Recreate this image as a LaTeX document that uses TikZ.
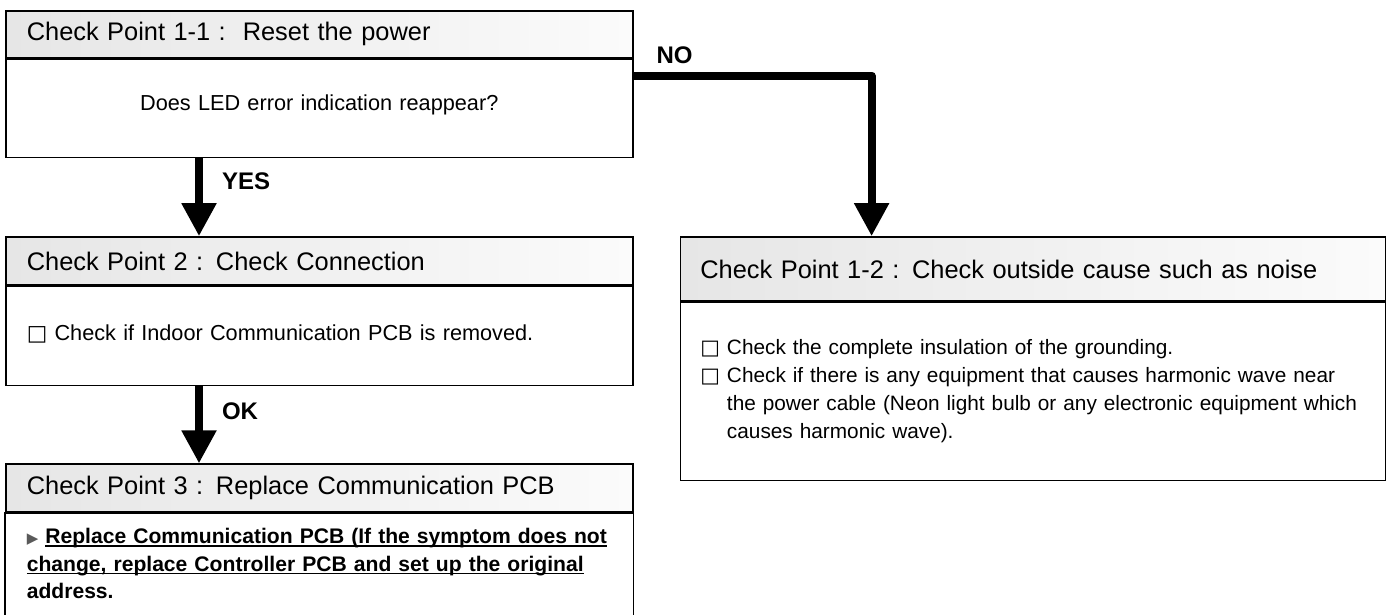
\documentclass[tikz,border=0pt]{standalone}
\usepackage{fontspec}
\setmainfont{Liberation Sans}
\newfontfamily\symfont{DejaVu Sans}
\usetikzlibrary{arrows.meta,positioning}
\definecolor{headgray}{HTML}{E6E6E6}
\definecolor{headwhite}{HTML}{FBFBFB}
\definecolor{pointer}{HTML}{5A5A5A}
\newcommand{\chkbox}{{\symfont □}}
\newcommand{\undl}[1]{\leavevmode\setbox0\hbox{#1}\rlap{\rule[-3pt]{\wd0}{1.4pt}}\box0}
\tikzset{
 head/.style={draw,line width=1.6pt,left color=headgray,right color=headwhite,minimum width=627pt,minimum height=48pt,inner xsep=21pt,text width=585pt,align=left,font=\fontsize{25.4}{30}\selectfont},
 body/.style={draw,line width=1.6pt,fill=white,minimum width=627pt,inner xsep=21pt,text width=585pt,align=left,font=\fontsize{21.7}{27.5}\selectfont},
 arrow/.style={-{Triangle[length=33pt,width=33pt]},line width=8pt,line join=round},
 answer/.style={inner sep=0pt,font=\bfseries\fontsize{24}{28}\selectfont}
}

\begin{document}
\begin{tikzpicture}[x=1pt,y=-1pt]
\useasboundingbox (0,0) rectangle (1389,614);
% left column
\node[head,anchor=north west,minimum height=47pt] (head1) at (5,10) {Check Point 1-1 :\ \ Reset the power};
\node[body,below=0pt of head1,minimum height=98pt,align=center] (body1) {\raisebox{11pt}{Does LED error indication reappear?}};
\node[head,below=78pt of body1] (head2) {Check Point 2 : Check Connection};
\node[body,below=0pt of head2,minimum height=99pt] (body2) {\raisebox{7pt}{\chkbox\ Check if Indoor Communication PCB is removed.}};
\node[head,below=77pt of body2] (head3) {Check Point 3 : Replace Communication PCB};
% last box runs past the lower edge
\node[body,draw=none,below=0pt of head3,minimum height=100pt,font=\bfseries\fontsize{21.1}{27.5}\selectfont] (body3) {{\symfont\fontsize{15}{15}\selectfont\color{pointer}▶} \undl{Replace Communication PCB (If the symptom does not}\\
 \undl{change, replace Controller PCB and set up the original}\\
 address.};
\draw[line width=1.6pt] ([yshift=-30pt]body3.south west) -- (body3.north west) -- (body3.north east) -- ([yshift=-30pt]body3.south east);
% right column
\node[head,anchor=north west,minimum width=705pt,text width=665pt,inner xsep=20pt,minimum height=64pt] (head12) at ([xshift=46pt]head2.north east) {Check Point 1-2 : Check outside cause such as noise};
\node[body,below=0pt of head12,minimum width=705pt,text width=665pt,inner xsep=20pt,minimum height=178pt,font=\fontsize{20.8}{28}\selectfont] (body12) {\chkbox\ Check the complete insulation of the grounding.\\
 \chkbox\ Check if there is any equipment that causes harmonic wave near\\
 \phantom{\chkbox\ }the power cable (Neon light bulb or any electronic equipment which\\
 \phantom{\chkbox\ }causes harmonic wave).};
% answers
\draw[arrow] ([xshift=194pt]body1.south west) -- node[answer,pos=0.3,right=19pt] (yes) {YES} ([xshift=194pt]head2.north west);
\draw[arrow] ([xshift=194pt]body2.south west) -- node[answer,pos=0.32,right=19pt] (ok) {OK} ([xshift=194pt]head3.north west);
\draw[arrow] ([yshift=-17pt]body1.north east) -| node[answer,pos=0,anchor=base west,xshift=19pt,yshift=12pt] (no) {NO} ([xshift=192pt]head12.north west);
\end{tikzpicture}
\end{document}
